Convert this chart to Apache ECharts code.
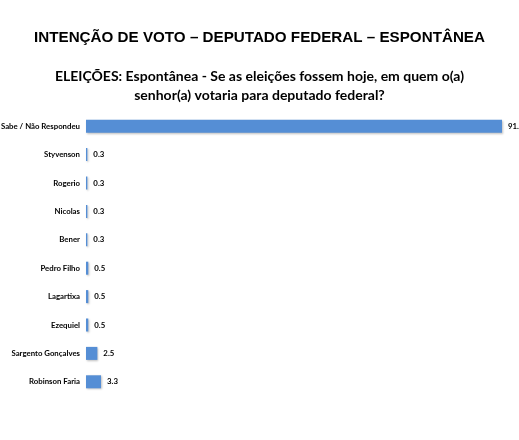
<!DOCTYPE html>
<html>
<head>
<meta charset="utf-8">
<script src="https://cdn.jsdelivr.net/npm/echarts@6/dist/echarts.min.js"></script>
<style>
  html, body { margin: 0; padding: 0; background: #fff; }
  #chart { width: 519px; height: 440px; }
</style>
</head>
<body>
<div id="chart"></div>
<script>
var candidatos = ['Não Sabe / Não Respondeu', 'Styvenson', 'Rogerio', 'Nicolas', 'Bener',
  'Pedro Filho', 'Lagartixa', 'Ezequiel', 'Sargento Gonçalves', 'Robinson Faria'];
var votos = [91.5, 0.3, 0.3, 0.3, 0.3, 0.5, 0.5, 0.5, 2.5, 3.3];

var myChart = echarts.init(document.getElementById('chart'));

var option = {
  backgroundColor: '#ffffff',
  animation: false,
  title: [
    {
      text: 'INTENÇÃO DE VOTO – DEPUTADO FEDERAL – ESPONTÂNEA',
      left: 'center',
      top: 25,
      textStyle: { fontFamily: 'Liberation Sans', fontWeight: 'bold', fontSize: 15.2, color: '#000' }
    },
    {
      text: 'ELEIÇÕES: Espontânea - Se as eleições fossem hoje, em quem o(a)\nsenhor(a) votaria para deputado federal?',
      left: 'center',
      top: 62,
      textStyle: { fontFamily: 'Lato', fontWeight: 'bold', fontSize: 14, lineHeight: 19, color: '#000', align: 'center' }
    }
  ],
  grid: { left: 86, right: 17, top: 112, bottom: 44, containLabel: false, outerBoundsMode: 'none' },
  xAxis: {
    type: 'value',
    min: 0,
    max: 91.5,
    show: false
  },
  yAxis: {
    type: 'category',
    data: candidatos,
    inverse: true,
    axisLine: { show: false },
    axisTick: { show: false },
    axisLabel: {
      margin: 6,
      fontFamily: 'Lato',
      fontWeight: 'bold',
      fontSize: 7.8,
      color: '#000'
    }
  },
  series: [
    {
      type: 'bar',
      data: votos,
      barWidth: 13,
      itemStyle: {
        color: '#558ed5',
        shadowColor: 'rgba(0,0,0,0.25)',
        shadowBlur: 2,
        shadowOffsetX: 1,
        shadowOffsetY: 1
      },
      label: {
        show: true,
        position: 'right',
        distance: 6,
        fontFamily: 'Lato',
        fontWeight: 'bold',
        fontSize: 7.8,
        color: '#000',
        formatter: function (p) { return p.value.toFixed(1); }
      }
    }
  ]
};
myChart.setOption(option);
</script>
</body>
</html>
